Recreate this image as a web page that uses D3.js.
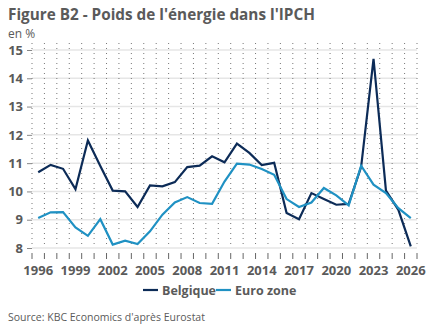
<!DOCTYPE html>
<html>
<head>
<meta charset="utf-8">
<script src="https://cdn.jsdelivr.net/npm/d3@7"></script>
<style>
  body { margin: 0; background: #fff; }
  svg { display: block; font-family: "Open Sans", "Noto Sans", sans-serif; }
</style>
</head>
<body>
<script>
// Years on the x axis and tick labels
let years = d3.range(1996, 2027);
let yearTicks = [1996, 1999, 2002, 2005, 2008, 2011, 2014, 2017, 2020, 2023, 2026];
let valueTicks = [8, 9, 10, 11, 12, 13, 14, 15];

// Energy weight in the HICP (%)
let belgique = [10.68, 10.94, 10.80, 10.08, 11.80, 10.90, 10.03, 10.00, 9.45, 10.21,
  10.18, 10.33, 10.86, 10.91, 11.24, 11.03, 11.69, 11.36, 10.93, 11.01,
  9.24, 9.02, 9.94, 9.73, 9.53, 9.56, 10.86, 14.69, 10.03, 9.35, 8.06];
let euroZone = [9.06, 9.26, 9.27, 8.73, 8.43, 9.02, 8.12, 8.26, 8.14, 8.59,
  9.18, 9.61, 9.80, 9.59, 9.56, 10.35, 10.98, 10.95, 10.79, 10.59,
  9.73, 9.45, 9.61, 10.12, 9.86, 9.51, 10.91, 10.24, 9.94, 9.41, 9.06];

let seriesNames = ['Belgique', 'Euro zone'];
let colors = ['#0c2b57', '#1f91c3'];

let svgWidth = 432;
let svgHeight = 334;
let margin = { top: 50, right: 15, bottom: 86, left: 32 };
let chartWidth = svgWidth - margin.left - margin.right;
let chartHeight = svgHeight - margin.top - margin.bottom;

let svg = d3.select('body')
  .append('svg')
  .attr('width', svgWidth)
  .attr('height', svgHeight);

// title + unit
svg.append('text')
  .attr('x', 8).attr('y', 20)
  .style('font-size', '15.3px').style('font-weight', 'bold')
  .attr('fill', '#5a5a5a')
  .text("Figure B2 - Poids de l'énergie dans l'IPCH");
svg.append('text')
  .attr('x', 8).attr('y', 38)
  .style('font-size', '12px')
  .attr('fill', '#5a5a5a')
  .text('en %');

let chartGroup = svg.append('g')
  .attr('transform', `translate(${margin.left}, ${margin.top})`);

let xScale = d3.scaleBand()
  .domain(years)
  .range([0, chartWidth]);
let yScale = d3.scaleLinear()
  .domain([8, 15])
  .range([chartHeight, 0]);

// horizontal gridlines
chartGroup.selectAll('.hgrid')
  .data(valueTicks)
  .enter()
  .append('line')
  .attr('x1', 0).attr('x2', chartWidth)
  .attr('y1', d => yScale(d)).attr('y2', d => yScale(d))
  .attr('stroke', '#e6e6e6')
  .attr('stroke-width', 1.5);

// dotted year boundaries
let bounds = years.map(d => xScale(d)).concat([chartWidth]);
chartGroup.selectAll('.vgrid')
  .data(bounds)
  .enter()
  .append('line')
  .attr('x1', d => d).attr('x2', d => d)
  .attr('y1', -7).attr('y2', chartHeight)
  .attr('stroke', '#777')
  .attr('stroke-width', 1)
  .attr('stroke-dasharray', '1,4');

// small ticks under the axis
chartGroup.selectAll('.xtick')
  .data(bounds)
  .enter()
  .append('line')
  .attr('x1', d => d).attr('x2', d => d)
  .attr('y1', chartHeight + 5).attr('y2', chartHeight + 11)
  .attr('stroke', '#666')
  .attr('stroke-width', 1);

// y axis
let yAxis = d3.axisLeft(yScale)
  .tickValues(valueTicks)
  .tickFormat(d3.format('d'))
  .tickSize(5)
  .tickPadding(4);
let yAxisGroup = chartGroup.append('g').call(yAxis);
yAxisGroup.select('.domain').remove();
yAxisGroup.selectAll('line').attr('stroke', '#888');
yAxisGroup.selectAll('text')
  .attr('fill', '#5a5a5a')
  .style('font-size', '13px')
  .style('font-weight', 'bold')
  .style('font-family', '"Open Sans", sans-serif');

// x axis labels
chartGroup.selectAll('.xlabel')
  .data(yearTicks)
  .enter()
  .append('text')
  .attr('x', d => xScale(d) + xScale.bandwidth() / 2)
  .attr('y', chartHeight + 27)
  .attr('text-anchor', 'middle')
  .attr('fill', '#5a5a5a')
  .style('font-size', '13px')
  .style('font-weight', 'bold')
  .text(d => d);

// lines
let createLine = d3.line()
  .x((d, i) => xScale(years[i]) + xScale.bandwidth() / 2)
  .y(d => yScale(d));

[belgique, euroZone].forEach((series, k) => {
  chartGroup.append('path')
    .attr('d', createLine(series))
    .attr('fill', 'none')
    .attr('stroke', colors[k])
    .attr('stroke-width', 2.2)
    .attr('stroke-linejoin', 'miter');
});

// legend
let legend = svg.append('g').attr('transform', 'translate(143, 290)');
let legendX = [0, 73];
seriesNames.forEach((name, k) => {
  let item = legend.append('g').attr('transform', `translate(${legendX[k]}, 0)`);
  item.append('line')
    .attr('x1', 0).attr('x2', 15)
    .attr('y1', 0).attr('y2', 0)
    .attr('stroke', colors[k]).attr('stroke-width', 2.2);
  item.append('text')
    .attr('x', 19).attr('y', 4.5)
    .attr('fill', '#5a5a5a')
    .style('font-size', '12.5px')
    .style('font-weight', 'bold')
    .text(name);
});

// source
svg.append('text')
  .attr('x', 8).attr('y', 321)
  .attr('fill', '#5a5a5a')
  .style('font-size', '10.5px')
  .text("Source: KBC Economics d'après Eurostat");
</script>
</body>
</html>
